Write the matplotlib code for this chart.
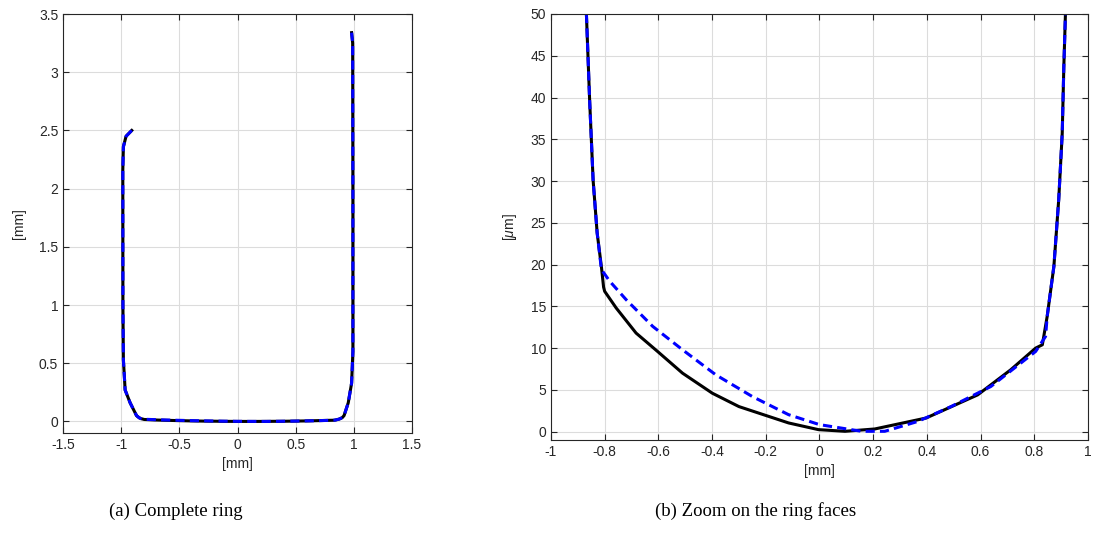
import matplotlib
matplotlib.use("Agg")
import matplotlib.pyplot as plt
from matplotlib.ticker import FuncFormatter

plt.rcParams['font.family'] = ['Liberation Sans', 'DejaVu Sans']
plt.rcParams['axes.unicode_minus'] = False
plt.rcParams['mathtext.fontset'] = 'custom'
plt.rcParams['mathtext.it'] = 'Liberation Sans:italic'

# ring face profile, x in mm, y in um
face_x_meas = [-0.868, -0.856, -0.843, -0.828, -0.812, -0.804, -0.80, -0.757, -0.683, -0.603,
               -0.51, -0.399, -0.30, -0.201, -0.115, -0.004, 0.095, 0.206, 0.397, 0.589,
               0.712, 0.805, 0.830, 0.848, 0.873, 0.891, 0.904, 0.91, 0.916]
face_y_meas = [50, 39.7, 30.1, 23.8, 19.7, 17.3, 16.8, 14.8, 11.8, 9.6,
               7.0, 4.6, 3.0, 1.95, 1.04, 0.24, 0.04, 0.32, 1.63, 4.4,
               7.4, 10.0, 10.4, 13.8, 19.8, 27.8, 35.7, 43.7, 50]

face_x_sim = [-0.868, -0.856, -0.843, -0.828, -0.812, -0.781, -0.72, -0.621, -0.51, -0.386,
              -0.25, -0.115, 0.0, 0.157, 0.243, 0.367, 0.49, 0.638, 0.805, 0.842,
              0.848, 0.873, 0.891, 0.904, 0.91, 0.916]
face_y_sim = [50, 39.7, 30.1, 23.8, 19.4, 18.0, 15.8, 12.6, 9.8, 6.8,
              4.2, 2.03, 0.84, 0.04, 0.04, 1.23, 3.0, 5.4, 9.6, 11.4,
              13.8, 19.8, 27.8, 35.7, 43.7, 50]

# ring flanks in mm (panel a), top -> face and face -> top
left_flank_x = [-0.909, -0.958, -0.981, -0.986, -0.985, -0.981, -0.966, -0.923]
left_flank_y = [2.50, 2.45, 2.36, 2.16, 1.0, 0.53, 0.27, 0.16]
right_flank_x = [0.952, 0.981, 0.992, 0.992, 0.99, 0.981]
right_flank_y = [0.16, 0.33, 0.6, 2.0, 3.25, 3.34]


def ring(fx, fy):
    xs = left_flank_x + fx + right_flank_x
    ys = left_flank_y + [v / 1000 for v in fy] + right_flank_y
    return xs, ys


fmt = FuncFormatter(lambda v, p: '%g' % round(v, 6))
ax_col = '#262626'


def matlab_axes(ax):
    ax.grid(True, color='#dcdcdc', linewidth=0.8)
    ax.set_axisbelow(True)
    ax.tick_params(direction='in', top=True, right=True, labelsize=10,
                   colors=ax_col, length=4, width=0.8)
    for s in ax.spines.values():
        s.set_color(ax_col)
        s.set_linewidth(0.8)
    ax.xaxis.set_major_formatter(fmt)
    ax.yaxis.set_major_formatter(fmt)


fig = plt.figure(figsize=(10.96, 5.4), dpi=100)
ax1 = fig.add_axes([0.0575, 0.198, 0.3184, 0.776])
ax2 = fig.add_axes([0.5027, 0.1852, 0.490, 0.7889])

lw = 2.2
dash = (0, (3, 1.7))

rx, ry = ring(face_x_meas, face_y_meas)
sx, sy = ring(face_x_sim, face_y_sim)
ax1.plot(rx, ry, color='black', linewidth=lw)
ax1.plot(sx, sy, color='blue', linewidth=lw, linestyle=dash)
ax1.set_xlim(-1.5, 1.5)
ax1.set_ylim(-0.1, 3.5)
ax1.set_xticks([-1.5, -1, -0.5, 0, 0.5, 1, 1.5])
ax1.set_yticks([0, 0.5, 1, 1.5, 2, 2.5, 3, 3.5])
ax1.set_xlabel('[mm]', fontsize=10, color=ax_col, labelpad=4)
ax1.set_ylabel('[mm]', fontsize=10, color=ax_col, labelpad=9)
matlab_axes(ax1)

ax2.plot(face_x_meas, face_y_meas, color='black', linewidth=lw)
ax2.plot(face_x_sim, face_y_sim, color='blue', linewidth=lw, linestyle=dash)
ax2.set_xlim(-1, 1)
ax2.set_ylim(-1, 50)
ax2.set_xticks([-1, -0.8, -0.6, -0.4, -0.2, 0, 0.2, 0.4, 0.6, 0.8, 1])
ax2.set_yticks(range(0, 51, 5))
ax2.set_xlabel('[mm]', fontsize=10, color=ax_col, labelpad=4)
ax2.set_ylabel(r'[$\mu$m]', fontsize=10, color=ax_col, labelpad=8)
matlab_axes(ax2)

fig.text(0.160, 0.045, '(a) Complete ring', fontsize=13.5, family='Liberation Serif', ha='center')
fig.text(0.689, 0.045, '(b) Zoom on the ring faces', fontsize=13.5, family='Liberation Serif', ha='center')

fig.savefig('out.png', dpi=100)
